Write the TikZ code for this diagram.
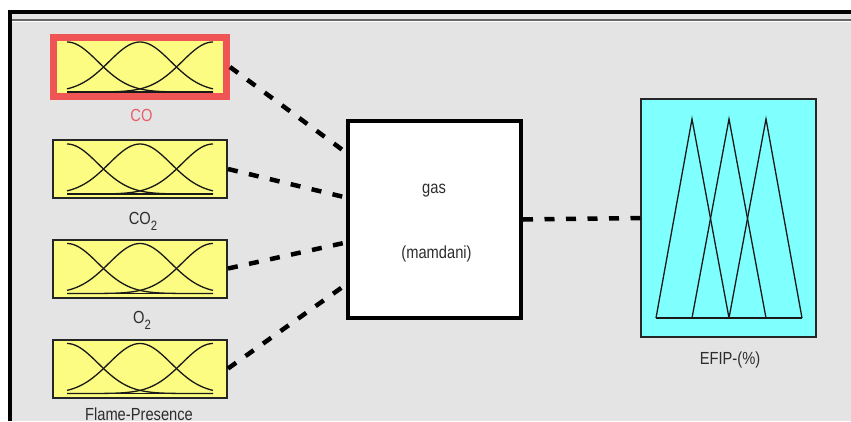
\documentclass[tikz,border=0pt]{standalone}
\usepackage{fontspec}
\usepackage{graphicx}
\setmainfont{Liberation Sans}
\definecolor{bggray}{RGB}{228,228,228}
\definecolor{mfyellow}{RGB}{252,252,130}
\definecolor{mfcyan}{RGB}{128,255,255}
\definecolor{selred}{RGB}{240,85,85}
\definecolor{lblred}{RGB}{230,95,105}
\definecolor{txtgray}{RGB}{45,45,45}
\newcommand\lbl[1]{\fontsize{17.5}{20}\selectfont\scalebox{0.84}[1]{#1}}
\newcommand\subtwo{\raisebox{-6pt}{\fontsize{13.5}{14}\selectfont 2}}
\newcommand\drawgauss[2]{%
  \foreach \c in {-73,0,73}{%
    \draw[mfline] plot[domain=-73:73,samples=70,smooth] ({#1+\x},{#2+25-50*exp(-0.5*((\x-(\c))/31)^2)});
  }%
  \draw[mfline] (#1-73,#2+25) -- (#1+73,#2+25);%
}
\tikzset{
  inbox/.style={rectangle,draw=black!85,line width=2pt,fill=mfyellow,minimum width=174pt,minimum height=58pt,inner sep=0pt},
  selbox/.style={rectangle,draw=selred,line width=7pt,fill=mfyellow,minimum width=173pt,minimum height=59pt,inner sep=0pt},
  fisbox/.style={rectangle,draw=black,line width=4pt,fill=white,minimum width=173pt,minimum height=197pt,inner sep=0pt},
  outbox/.style={rectangle,draw=black!85,line width=1.5pt,fill=mfcyan,minimum width=175pt,minimum height=238pt,inner sep=0pt},
  mfline/.style={draw=black!90,line width=1.3pt},
  conn/.style={draw=black,line width=4.5pt,dash pattern=on 10pt off 11.5pt},
  lbltext/.style={anchor=base,inner sep=0pt,text=txtgray}
}
\begin{document}
\begin{tikzpicture}[x=1pt,y=-1pt]
\useasboundingbox (0,0) rectangle (851,421);
\fill[white] (0,0) rectangle (851,421);
\fill[bggray] (9,11) rectangle (851,421);
\draw[black!60,line width=2pt] (11,19.5) -- (851,19.5);
\draw[white,line width=1pt] (11,21.5) -- (851,21.5);
\draw[black,line width=4pt] (9.5,421) -- (9.5,11.5) -- (851,11.5);

% input boxes
\node[selbox] (co) at (140,67) {};
\node[inbox] (cotwo) at (140,169) {};
\node[inbox] (otwo) at (140,268.5) {};
\node[inbox] (flame) at (140,368.5) {};
\drawgauss{140}{67}
\drawgauss{140}{169}
\drawgauss{140}{268.5}
\drawgauss{140}{368.5}

\node[lbltext,text=lblred] (colbl) at (141.5,121) {\lbl{CO}};
\node[lbltext] (cotwolbl) at (143,224) {\lbl{CO\subtwo}};
\node[lbltext] (otwolbl) at (142,323) {\lbl{O\subtwo}};
\node[lbltext] (flamelbl) at (139,420.5) {\lbl{Flame-Presence}};

% FIS box
\node[fisbox] (gas) at (434.5,219.5) {};
\node[lbltext] (gaslbl) at (434,193) {\lbl{gas}};
\node[lbltext] (mamlbl) at (436.5,258) {\lbl{(mamdani)}};

% output box
\node[outbox] (out) at (728.5,218) {};
\draw[mfline,line join=miter] (656,318) -- (692,119) -- (729,318);
\draw[mfline,line join=miter] (692,318) -- (729,119) -- (766,318);
\draw[mfline,line join=miter] (729,318) -- (766,119) -- (802,318);
\draw[mfline] (656,318) -- (802,318);
\node[lbltext] (outlbl) at (730,364) {\lbl{EFIP-(\%)}};

% connectors
\draw[conn] (co.east) -- ([yshift=67pt]gas.west);
\draw[conn] (cotwo.east) -- ([yshift=22pt]gas.west);
\draw[conn] (otwo.east) -- ([yshift=-23pt]gas.west);
\draw[conn] (flame.east) -- ([yshift=-65pt]gas.west);
\draw[conn] (gas.east) -- (out.west);
\end{tikzpicture}
\end{document}
